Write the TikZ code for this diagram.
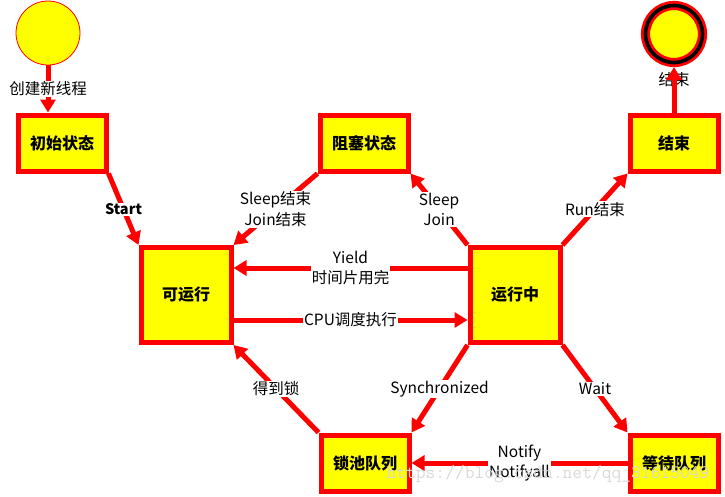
\documentclass[tikz,border=0pt]{standalone}
\usepackage{fontspec}
\setmainfont{Noto Sans CJK SC}
\usetikzlibrary{arrows.meta}
\definecolor{lineRed}{RGB}{255,0,0}
\definecolor{boxYellow}{RGB}{255,255,0}
\tikzset{
  statebox/.style={draw=lineRed, line width=5pt, fill=boxYellow, minimum width=88pt,
    minimum height=56pt, inner sep=0pt, font=\fontsize{16}{18}\selectfont\bfseries},
  bigbox/.style={statebox, minimum width=90pt, minimum height=95pt},
  trans/.style={draw=lineRed, line width=5pt, -{Triangle[length=13pt,width=15pt]}},
  lbl/.style={fill=white, inner sep=1pt, align=center, font=\fontsize{15.5}{20.5}\selectfont},
}
\begin{document}
\begin{tikzpicture}[x=1pt, y=-1pt]
  \useasboundingbox (0,0) rectangle (725,496);
  % start and end points
  \node[circle, minimum size=64pt, inner sep=0pt, fill=boxYellow, draw=lineRed, line width=0.8pt] (begin) at (48,33) {};
  \node[circle, minimum size=57pt, inner sep=0pt, outer sep=4.5pt, fill=boxYellow, draw=lineRed,
    line width=2.8pt, double=black, double distance=3.6pt] (finish) at (674,34) {};
  % states
  \node[statebox] (init) at (62,143) {初始状态};
  \node[statebox] (blocked) at (364,143) {阻塞状态};
  \node[statebox] (end) at (674,143) {结束};
  \node[bigbox] (ready) at (186,295) {可运行};
  \node[bigbox] (running) at (515,295) {运行中};
  \node[statebox] (lock) at (365,463) {锁池队列};
  \node[statebox] (wait) at (674,463) {等待队列};
  % transitions
  \draw[trans] (begin.south) -- node[lbl]{创建新线程} (begin.south |- init.north);
  \node[lbl, fill=none] (endlbl) at (674,80) {结束};
  \draw[trans] (end.north) -- (finish.south);
  \draw[trans] (init.south east) -- node[lbl, font=\fontsize{14.5}{20}\selectfont\bfseries]{Start} (ready.north west);
  \draw[trans] (blocked.south west) -- node[lbl]{Sleep结束\\Join结束} (ready.north east);
  \draw[trans] (running.north west) -- node[lbl]{Sleep\\Join} (blocked.south east);
  \draw[trans] (running.north east) -- node[lbl]{Run结束} (end.south west);
  \draw[trans] ([yshift=27pt]running.west) -- node[lbl]{Yield\\时间片用完} ([yshift=27pt]ready.east);
  \draw[trans] ([yshift=-25pt]ready.east) -- node[lbl]{CPU调度执行} ([yshift=-25pt]running.west);
  \draw[trans] (running.south west) -- node[lbl]{Synchronized} (lock.north east);
  \draw[trans] (running.south east) -- node[lbl]{Wait} (wait.north west);
  \draw[trans] (lock.north west) -- node[lbl]{得到锁} (ready.south east);
  \draw[trans] (wait.west) -- node[lbl]{Notify\\Notifyall} (lock.east);
  % watermark
  \node[text=black!15, font=\ttfamily\fontsize{19}{19}\selectfont] (mark) at (548,474) {https://blog.csdn.net/qq\_31615049};
\end{tikzpicture}
\end{document}
